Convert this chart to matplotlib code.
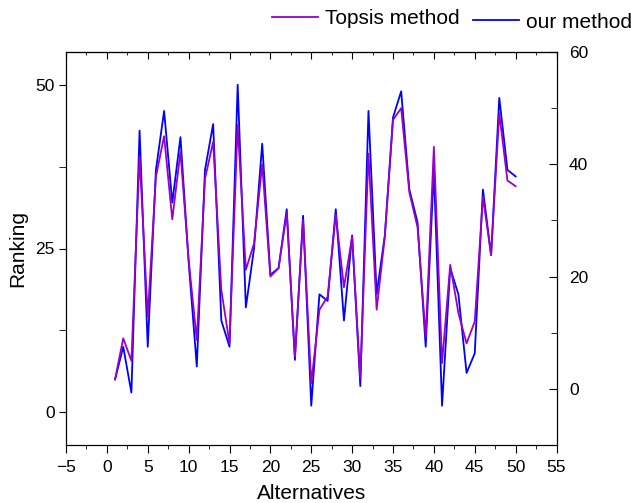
import matplotlib
matplotlib.use('Agg')
import matplotlib.pyplot as plt
from matplotlib.ticker import MultipleLocator

plt.rcParams['font.family'] = ['Liberation Sans', 'DejaVu Sans']

# alternatives 1..50
alternatives = list(range(1, 51))

# our method ranking (left axis)
our_method = [5, 10, 3, 43, 10, 37, 46, 32, 42, 23,
              7, 37, 44, 14, 10, 50, 16, 25, 41, 21,
              22, 31, 8, 30, 1, 18, 17, 31, 14, 27,
              4, 46, 18, 27, 45, 49, 34, 29, 10, 37,
              1, 22, 18, 6, 9, 34, 24, 48, 37, 36]

# topsis ranking (right axis)
topsis = [1.7, 9, 5, 41.4, 12.9, 37.8, 45, 30.2, 42.2, 23,
          8.7, 37.4, 44, 17.6, 8.1, 47, 21.2, 25.9, 40, 20,
          21.5, 31.3, 5.8, 30.1, 1, 14.1, 16.4, 31, 18.1, 27.1,
          1.9, 41.9, 14.1, 27.1, 47.9, 50, 35, 28.8, 9.3, 43.1,
          4.6, 22.1, 13.5, 8.1, 12, 34.2, 23.8, 49.1, 37.1, 36.1]

blue = '#0000FF'
purple = '#9900CC'

fig = plt.figure(figsize=(6.31, 5.03), dpi=100)
ax1 = fig.add_axes([66 / 631, 1 - 445 / 503, (556.5 - 66) / 631, (445 - 52) / 503])

l_our, = ax1.plot(alternatives, our_method, color=blue, lw=1.3)
ax1.set_xlim(-5, 55)
ax1.set_ylim(-5, 55)
ax1.xaxis.set_major_locator(MultipleLocator(5))
ax1.xaxis.set_minor_locator(MultipleLocator(2.5))
ax1.yaxis.set_major_locator(MultipleLocator(25))
ax1.yaxis.set_minor_locator(MultipleLocator(12.5))
ax1.tick_params(axis='x', which='both', direction='out', labelsize=12.5, pad=5)
ax1.tick_params(axis='x', which='major', length=6)
ax1.tick_params(axis='x', which='minor', length=3)
ax1.tick_params(axis='y', which='both', direction='out', labelsize=12.5, pad=3)
ax1.tick_params(axis='y', which='major', length=5)
ax1.tick_params(axis='y', which='minor', length=5)
ax1.set_xlabel('Alternatives', fontsize=15, labelpad=6)
ax1.set_ylabel('Ranking', fontsize=15, labelpad=6)

# top ticks point inward, no labels
top = ax1.secondary_xaxis('top')
top.xaxis.set_major_locator(MultipleLocator(5))
top.xaxis.set_minor_locator(MultipleLocator(2.5))
top.tick_params(which='both', direction='in', labeltop=False)
top.tick_params(which='major', length=5)
top.tick_params(which='minor', length=2.5)

ax2 = ax1.twinx()
l_top, = ax2.plot(alternatives, topsis, color=purple, lw=1.3)
ax2.set_ylim(-10, 60)
ax2.yaxis.set_major_locator(MultipleLocator(20))
ax2.yaxis.set_minor_locator(MultipleLocator(10))
ax2.tick_params(axis='y', which='both', direction='in', labelsize=12.5, pad=9)
ax2.tick_params(axis='y', which='major', length=6)
ax2.tick_params(axis='y', which='minor', length=4)

fig.legend(handles=[l_top], labels=['Topsis method'], loc='center left',
           bbox_to_anchor=(272 / 631, 1 - 19 / 503), frameon=False,
           fontsize=15, handlelength=2.2, handletextpad=0.35,
           borderpad=0, borderaxespad=0)
fig.legend(handles=[l_our], labels=['our method'], loc='center left',
           bbox_to_anchor=(473 / 631, 1 - 22 / 503), frameon=False,
           fontsize=15, handlelength=2.2, handletextpad=0.35,
           borderpad=0, borderaxespad=0)

fig.savefig('out.png', dpi=100)
